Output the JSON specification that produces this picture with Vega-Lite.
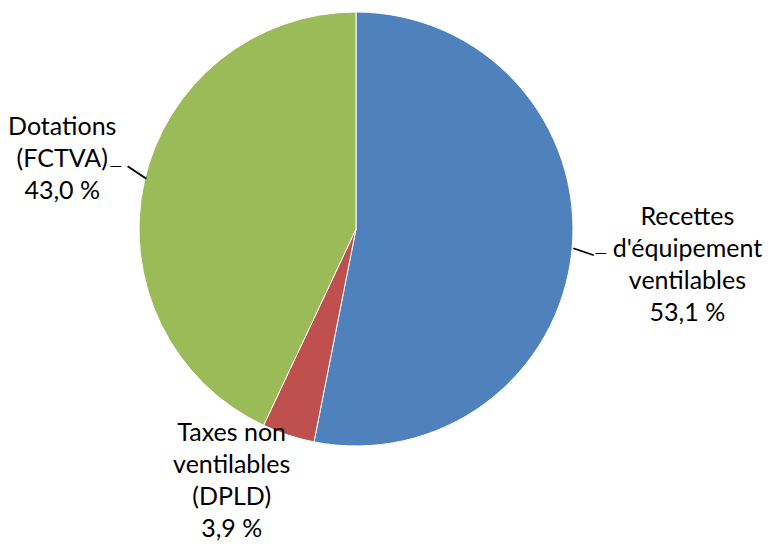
{
  "$schema": "https://vega.github.io/schema/vega-lite/v6.json",
  "width": 712,
  "height": 458,
  "padding": {"left": 0, "top": 0, "right": 57, "bottom": 88},
  "autosize": {"type": "none"},
  "background": "white",
  "config": {"view": {"stroke": null}},
  "data": {"values": [
    {"cat": "Recettes", "ord": 1, "value": 53.1, "label": "Recettes\nd'équipement\nventilables\n53,1 %"},
    {"cat": "Taxes", "ord": 2, "value": 3.9, "label": "Taxes non\nventilables\n(DPLD)\n3,9 %"},
    {"cat": "Dotations", "ord": 3, "value": 43.0, "label": "Dotations\n(FCTVA)\n43,0 %"}
  ]},
  "encoding": {
    "theta": {"field": "value", "type": "quantitative", "stack": true},
    "order": {"field": "ord", "type": "quantitative"}
  },
  "layer": [
    {
      "mark": {"type": "arc", "outerRadius": 217, "stroke": "white", "strokeWidth": 1},
      "encoding": {
        "color": {"field": "cat", "type": "nominal", "legend": null,
          "scale": {"domain": ["Recettes", "Taxes", "Dotations"], "range": ["#4F81BD", "#C0504D", "#9BBB59"]}}
      }
    },
    {
      "mark": {"type": "text", "radius": 333, "dy": -44, "font": "Lato", "fontSize": 25, "lineHeight": 32, "lineBreak": "\n", "align": "center", "baseline": "middle", "color": "black"},
      "encoding": {"text": {"condition": {"test": "datum.cat === 'Recettes'", "field": "label"}, "value": ""}}
    },
    {
      "mark": {"type": "text", "radius": 301, "dy": -36, "font": "Lato", "fontSize": 25, "lineHeight": 32, "lineBreak": "\n", "align": "center", "baseline": "middle", "color": "black"},
      "encoding": {"text": {"condition": {"test": "datum.cat === 'Dotations'", "field": "label"}, "value": ""}}
    },
    {
      "mark": {"type": "text", "radius": 267, "dx": -41, "dy": -50, "font": "Lato", "fontSize": 25, "lineHeight": 32, "lineBreak": "\n", "align": "center", "baseline": "middle", "color": "black"},
      "encoding": {"text": {"condition": {"test": "datum.cat === 'Taxes'", "field": "label"}, "value": ""}}
    },
    {
      "mark": {"type": "text", "radius": 228.6, "angle": 19, "font": "DejaVu Sans", "fontSize": 24, "align": "center", "baseline": "middle", "color": "black"},
      "encoding": {"text": {"condition": {"test": "datum.cat === 'Recettes'", "value": "—"}, "value": ""}}
    },
    {
      "mark": {"type": "text", "radius": 246, "dy": 0, "font": "DejaVu Sans", "fontSize": 12, "align": "center", "baseline": "middle", "color": "black"},
      "encoding": {"text": {"condition": {"test": "datum.cat === 'Recettes'", "value": "—"}, "value": ""}}
    },
    {
      "mark": {"type": "text", "radius": 229, "dy": -9, "angle": 33.7, "font": "DejaVu Sans", "fontSize": 25, "align": "center", "baseline": "middle", "color": "black"},
      "encoding": {"text": {"condition": {"test": "datum.cat === 'Dotations'", "value": "—"}, "value": ""}}
    },
    {
      "mark": {"type": "text", "radius": 246, "dy": -9, "font": "DejaVu Sans", "fontSize": 12, "align": "center", "baseline": "middle", "color": "black"},
      "encoding": {"text": {"condition": {"test": "datum.cat === 'Dotations'", "value": "—"}, "value": ""}}
    }
  ]
}
